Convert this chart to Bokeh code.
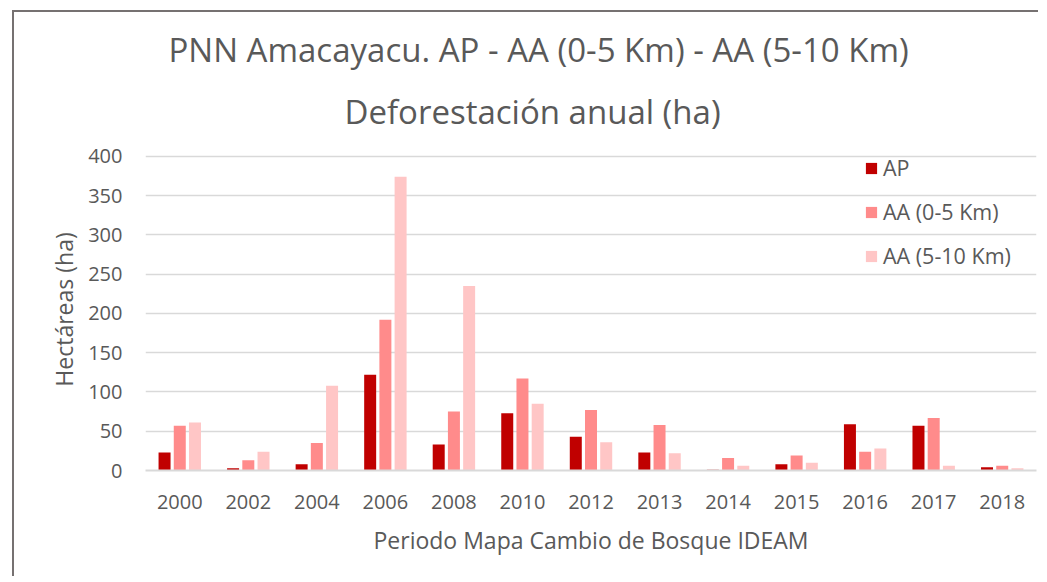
from bokeh.plotting import figure
from bokeh.models import FactorRange, Legend, LegendItem, Title, ColumnDataSource, SingleIntervalTicker
from bokeh.transform import dodge
from bokeh.embed import file_html
from bokeh.resources import INLINE

years = ["2000", "2002", "2004", "2006", "2008", "2010", "2012", "2013", "2014", "2015", "2016", "2017", "2018"]
ap = [23, 3, 8, 122, 33, 73, 43, 23, 1, 8, 59, 57, 4]
aa_0_5 = [57, 13, 35, 192, 75, 117, 77, 58, 16, 19, 24, 67, 6]
aa_5_10 = [61, 24, 108, 374, 235, 85, 36, 22, 6, 10, 28, 6, 3]
series_names = ["AP", "AA (0-5 Km)", "AA (5-10 Km)"]
colors = ["#C00000", "#FF8B8B", "#FFC6C6"]

title_1 = "PNN Amacayacu.  AP - AA (0-5 Km) - AA (5-10 Km)"
title_2 = "Deforestación anual (ha)"
x_label = "Periodo Mapa Cambio de Bosque IDEAM"
y_label = "Hectáreas (ha)"

FONT = "Open Sans"
TXT = "#595959"

src = ColumnDataSource(dict(year=years, ap=ap, aa05=aa_0_5, aa510=aa_5_10))

p = figure(x_range=FactorRange(*years), y_range=(0, 410),
           width=1026, height=566, output_backend="svg", toolbar_location=None,
           min_border_left=131, min_border_right=4, min_border_top=136, min_border_bottom=108)
p.styles = {"margin-left": "12px", "margin-top": "10px",
            "border-left": "2px solid #767171", "border-top": "2px solid #767171"}
p.outline_line_color = None
p.background_fill_color = "white"
p.border_fill_color = "white"
p.title.visible = False

bw = 0.175
off = 0.222
r1 = p.vbar(x=dodge("year", -off, range=p.x_range), top="ap", width=bw, source=src,
            fill_color=colors[0], line_color=None)
r2 = p.vbar(x=dodge("year", 0, range=p.x_range), top="aa05", width=bw, source=src,
            fill_color=colors[1], line_color=None)
r3 = p.vbar(x=dodge("year", off, range=p.x_range), top="aa510", width=bw, source=src,
            fill_color=colors[2], line_color=None)

# axes
p.xaxis.axis_line_color = "#D9D9D9"
p.xaxis.axis_line_width = 2
p.xaxis.major_tick_line_color = None
p.xaxis.minor_tick_line_color = None
p.xaxis.major_label_text_font = FONT
p.xaxis.major_label_text_font_size = "20px"
p.xaxis.major_label_text_color = TXT
p.xaxis.major_label_standoff = 18
p.xaxis.axis_label = x_label
p.xaxis.axis_label_text_font = FONT
p.xaxis.axis_label_text_font_size = "23px"
p.xaxis.axis_label_text_font_style = "normal"
p.xaxis.axis_label_text_color = TXT
p.xaxis.axis_label_standoff = 12

p.yaxis.ticker = SingleIntervalTicker(interval=50)
p.yaxis.axis_line_color = None
p.yaxis.major_tick_line_color = None
p.yaxis.minor_tick_line_color = None
p.yaxis.major_label_text_font = FONT
p.yaxis.major_label_text_font_size = "20px"
p.yaxis.major_label_text_color = TXT
p.yaxis.major_label_standoff = 17
p.yaxis.axis_label = y_label
p.yaxis.axis_label_text_font = FONT
p.yaxis.axis_label_text_font_size = "23px"
p.yaxis.axis_label_text_font_style = "normal"
p.yaxis.axis_label_text_color = TXT
p.yaxis.axis_label_standoff = 5

p.xgrid.grid_line_color = None
p.ygrid.grid_line_color = "#D9D9D9"
p.ygrid.grid_line_width = 1.5

legend = Legend(items=[LegendItem(label=series_names[0], renderers=[r1]),
                       LegendItem(label=series_names[1], renderers=[r2]),
                       LegendItem(label=series_names[2], renderers=[r3])],
                location=(719, 200), orientation="vertical")
legend.background_fill_alpha = 0
legend.border_line_color = None
legend.padding = 0
legend.margin = 0
legend.spacing = 15
legend.glyph_width = 14
legend.glyph_height = 14
legend.label_height = 14
legend.label_standoff = 5
legend.label_text_font = FONT
legend.label_text_font_size = "21.5px"
legend.label_text_color = TXT
p.add_layout(legend, "center")

t2 = Title(text=title_2, align="left", offset=199, standoff=30,
           text_font=FONT, text_font_size="33px", text_font_style="normal", text_color=TXT)
t1 = Title(text=title_1, align="left", offset=23, standoff=0,
           text_font=FONT, text_font_size="33px", text_font_style="normal", text_color=TXT)
p.add_layout(t2, "above")
p.add_layout(t1, "above")

open("out.html", "w").write(file_html(p, INLINE))
